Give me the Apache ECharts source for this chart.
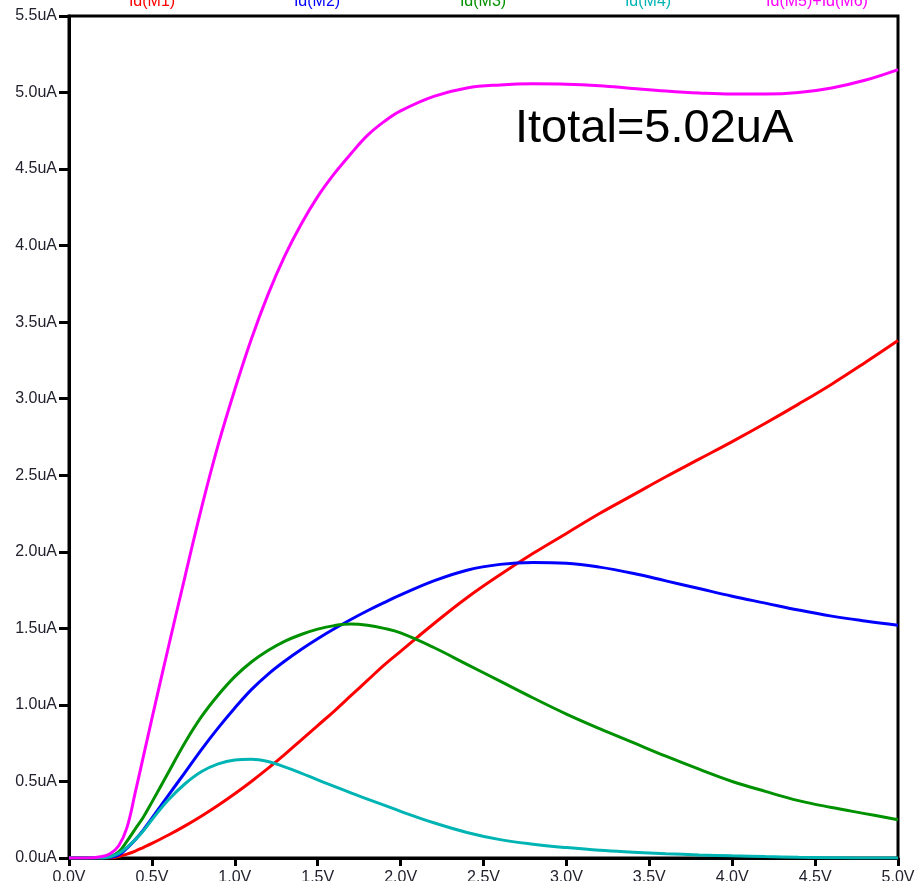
<!DOCTYPE html>
<html>
<head>
<meta charset="utf-8">
<script src="https://cdn.jsdelivr.net/npm/echarts@6/dist/echarts.min.js"></script>
<style>
html,body{margin:0;padding:0;background:#fff;}
#chart{width:918px;height:881px;}
</style>
</head>
<body>
<div id="chart"></div>
<script>
// Sweep voltage (V)
var vSweep = [0, 0.1, 0.2, 0.25, 0.3, 0.35, 0.4, 0.45, 0.5, 0.6, 0.7, 0.8, 0.9, 1.0, 1.1, 1.2, 1.3, 1.4, 1.5, 1.6, 1.7, 1.8, 1.9, 2.0, 2.2, 2.4, 2.6, 2.8, 3.0, 3.2, 3.4, 3.6, 3.8, 4.0, 4.2, 4.4, 4.6, 4.8, 5.0];
// Currents (uA)
var idM1 = [0, 0, 0, 0, 0.01, 0.025, 0.045, 0.07, 0.095, 0.15, 0.21, 0.275, 0.345, 0.42, 0.50, 0.585, 0.675, 0.77, 0.865, 0.96, 1.06, 1.16, 1.26, 1.35, 1.53, 1.70, 1.85, 1.99, 2.12, 2.25, 2.37, 2.49, 2.605, 2.72, 2.84, 2.965, 3.095, 3.235, 3.38];
var idM2 = [0, 0, 0, 0.005, 0.02, 0.065, 0.12, 0.185, 0.26, 0.41, 0.56, 0.71, 0.85, 0.98, 1.10, 1.20, 1.285, 1.362, 1.432, 1.497, 1.558, 1.615, 1.668, 1.718, 1.81, 1.88, 1.918, 1.93, 1.925, 1.90, 1.86, 1.81, 1.76, 1.71, 1.665, 1.62, 1.58, 1.548, 1.52];
var idM3 = [0, 0, 0, 0.01, 0.04, 0.11, 0.19, 0.27, 0.365, 0.56, 0.755, 0.925, 1.065, 1.185, 1.28, 1.355, 1.415, 1.46, 1.495, 1.518, 1.528, 1.52, 1.50, 1.47, 1.375, 1.265, 1.155, 1.045, 0.94, 0.845, 0.755, 0.665, 0.58, 0.50, 0.435, 0.375, 0.33, 0.29, 0.25];
var idM4 = [0, 0, 0, 0.01, 0.03, 0.07, 0.12, 0.18, 0.25, 0.38, 0.485, 0.565, 0.615, 0.64, 0.645, 0.63, 0.595, 0.555, 0.51, 0.468, 0.425, 0.385, 0.345, 0.305, 0.23, 0.167, 0.12, 0.09, 0.068, 0.05, 0.038, 0.028, 0.02, 0.014, 0.009, 0.005, 0.002, 0, 0];
var idTotal = [0, 0, 0.01, 0.03, 0.08, 0.2, 0.43, 0.67, 0.91, 1.38, 1.84, 2.29, 2.70, 3.06, 3.39, 3.68, 3.93, 4.14, 4.32, 4.47, 4.60, 4.72, 4.81, 4.88, 4.975, 5.03, 5.05, 5.057, 5.055, 5.045, 5.027, 5.01, 4.997, 4.99, 4.99, 5.0, 5.03, 5.08, 5.15];

var seriesNames = ['Id(M1)', 'Id(M2)', 'Id(M3)', 'Id(M4)', 'Id(M5)+Id(M6)'];
var xTickLabels = ['0.0V', '0.5V', '1.0V', '1.5V', '2.0V', '2.5V', '3.0V', '3.5V', '4.0V', '4.5V', '5.0V'];
var yTickLabels = ['0.0uA', '0.5uA', '1.0uA', '1.5uA', '2.0uA', '2.5uA', '3.0uA', '3.5uA', '4.0uA', '4.5uA', '5.0uA', '5.5uA'];
var annotation = 'Itotal=5.02uA';

var colors = ['#ff0000', '#0000ff', '#009100', '#00b4b4', '#ff00ff'];
var seriesData = [idM1, idM2, idM3, idM4, idTotal];

function pairs(arr) {
  return vSweep.map(function (v, i) { return [v, arr[i]]; });
}

var FONT = 'Liberation Sans, Arial, sans-serif';
var chart = echarts.init(document.getElementById('chart'), null, {renderer: 'canvas'});

var legendCenters = [152, 317, 483, 648, 817];
var graphics = seriesNames.map(function (n, i) {
  return {
    type: 'text',
    x: legendCenters[i],
    y: 10,
    style: {
      text: n,
      fill: colors[i],
      font: '16px ' + FONT,
      align: 'center',
      verticalAlign: 'bottom'
    },
    z: 10
  };
});
graphics.push({
  type: 'text',
  x: 515,
  y: 106,
  style: {
    text: annotation,
    fill: '#000',
    font: '47px ' + FONT,
    align: 'left',
    verticalAlign: 'top'
  },
  z: 10
});

var option = {
  animation: false,
  backgroundColor: '#ffffff',
  grid: {
    left: 69, right: 20, top: 16, bottom: 23,
    containLabel: false,
    outerBoundsMode: 'none',
    show: true,
    borderColor: '#000',
    borderWidth: 3,
    backgroundColor: 'transparent'
  },
  xAxis: {
    type: 'value',
    min: 0, max: 5, interval: 0.5,
    axisLine: {show: true, onZero: false, lineStyle: {color: '#000', width: 3}},
    axisTick: {show: true, length: 8, lineStyle: {color: '#000', width: 3}},
    splitLine: {show: false},
    axisLabel: {
      margin: 12,
      color: '#22222e',
      fontSize: 16,
      fontFamily: FONT,
      verticalAlign: 'top',
      formatter: function (v) { return xTickLabels[Math.round(v / 0.5)]; }
    }
  },
  yAxis: {
    type: 'value',
    min: 0, max: 5.5, interval: 0.5,
    axisLine: {show: true, onZero: false, lineStyle: {color: '#000', width: 3}},
    axisTick: {show: true, length: 10, lineStyle: {color: '#000', width: 3}},
    splitLine: {show: false},
    axisLabel: {
      margin: 12,
      color: '#22222e',
      fontSize: 16,
      fontFamily: FONT,
      formatter: function (v) { return yTickLabels[Math.round(v / 0.5)]; }
    }
  },
  graphic: graphics,
  series: seriesData.map(function (arr, i) {
    return {
      name: seriesNames[i],
      type: 'line',
      data: pairs(arr),
      showSymbol: false,
      symbol: 'none',
      smooth: 0.4,
      clip: true,
      lineStyle: {color: colors[i], width: 3},
      itemStyle: {color: colors[i]},
      z: 2 + (i === 3 ? 1 : 0) + (i === 4 ? 2 : 0)
    };
  })
};
chart.setOption(option);
</script>
</body>
</html>
